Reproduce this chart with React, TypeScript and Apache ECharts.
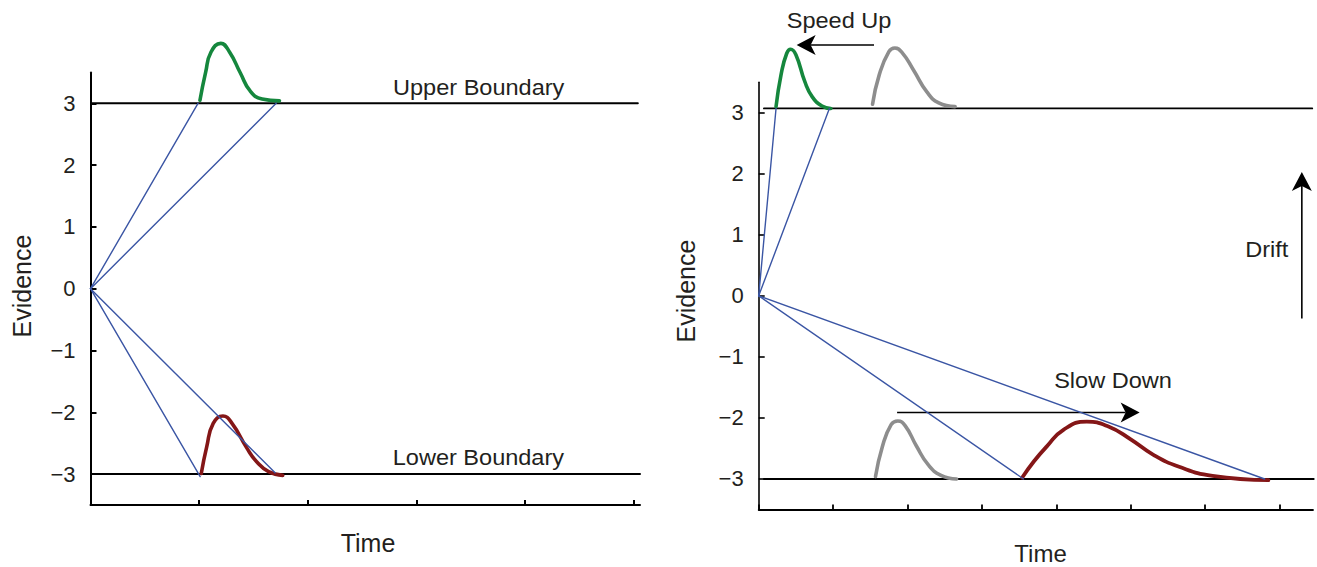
import React, { useEffect, useRef } from "react";
import * as echarts from "echarts";

// ---------- tick values ----------
const yTicks = [-3, -2, -1, 0, 1, 2, 3];
const leftTimeTicks = [0, 1, 2, 3, 4, 5];
const rightTimeTicks = [0, 1, 2, 3, 4, 5, 6, 7];

// ---------- left panel ----------
const leftUpperBoundary = [[0.01, 3], [5.04, 3]];
const leftLowerBoundary = [[0.01, -3], [5.06, -3]];
const leftPaths = [
  [[0, 0], [0.99, 3.0]],
  [[0, 0], [1.71, 3.0]],
  [[0, 0], [1.01, -3.04]],
  [[0, 0], [1.7, -2.98]],
];
const leftUpperRT = [
  [1.008, 3.05], [1.06, 3.5], [1.11, 3.83], [1.2, 3.97], [1.28, 3.83],
  [1.38, 3.49], [1.47, 3.2], [1.58, 3.07], [1.74, 3.04],
];
const leftLowerRT = [
  [1.02, -2.99], [1.07, -2.56], [1.13, -2.18], [1.22, -2.06], [1.3, -2.17],
  [1.44, -2.58], [1.53, -2.8], [1.64, -2.96], [1.77, -3.02],
];

// ---------- right panel ----------
const rightUpperBoundary = [[0.07, 3.07], [7.44, 3.07]];
const rightLowerBoundary = [[0.07, -3], [7.46, -3]];
const rightPaths = [
  [[0, 0], [0.233, 3.07]],
  [[0, 0], [0.95, 3.07]],
  [[0, 0], [3.56, -3.0]],
  [[0, 0], [6.8, -3.0]],
];
const rightUpperRT = [
  [0.233, 3.1], [0.3, 3.62], [0.376, 3.97], [0.43, 4.04], [0.5, 3.95],
  [0.62, 3.51], [0.72, 3.26], [0.85, 3.11], [0.97, 3.07],
];
const baselineUpperRT = [
  [1.53, 3.14], [1.62, 3.62], [1.75, 4.0], [1.83, 4.06], [1.93, 3.98],
  [2.08, 3.7], [2.26, 3.34], [2.42, 3.16], [2.64, 3.1],
];
const baselineLowerRT = [
  [1.57, -2.96], [1.66, -2.48], [1.78, -2.11], [1.87, -2.05], [1.97, -2.13],
  [2.12, -2.46], [2.28, -2.77], [2.45, -2.94], [2.66, -3.0],
];
const rightLowerRT = [
  [3.54, -2.98], [3.7, -2.71], [3.87, -2.47], [4.1, -2.19], [4.41, -2.06],
  [4.7, -2.14], [5.0, -2.35], [5.3, -2.6], [5.65, -2.8], [6.1, -2.95], [6.85, -3.02],
];
// arrows: [fromTime, fromEvidence, toTime, toEvidence]
const arrows = [
  [1.55, 4.11, 0.51, 4.11],
  [1.86, -1.91, 5.12, -1.91],
  [7.3, -0.37, 7.3, 2.03],
];

const TEXT = "#231f20";
const FONT = "'Liberation Sans', Arial, Helvetica, sans-serif";
const BLUE = "#3a55a4";
const GREEN = "#15873d";
const RED = "#841617";
const GRAY = "#8d8d8d";

const fmt = (v: number) => (v < 0 ? "\u2212" + Math.abs(v) : String(v));

function lineSeries(data: number[][], idx: number, color: string, width: number, smooth = false) {
  return {
    type: "line",
    xAxisIndex: idx,
    yAxisIndex: idx,
    data,
    showSymbol: false,
    symbol: "none",
    silent: true,
    clip: false,
    smooth: smooth ? 0.5 : false,
    lineStyle: { color, width, cap: "round", join: "round" },
  };
}

function yAxis(idx: number, lw: number) {
  return {
    type: "value",
    gridIndex: idx,
    min: -3.5,
    max: 3.5,
    axisLine: { show: true, onZero: false, lineStyle: { color: "#000", width: lw } },
    axisTick: { show: true, inside: true, length: 6, customValues: yTicks, lineStyle: { color: "#000", width: lw } },
    axisLabel: {
      show: true,
      customValues: yTicks,
      formatter: fmt,
      margin: 15,
      fontSize: 22,
      fontFamily: FONT,
      color: TEXT,
    },
    splitLine: { show: false },
  };
}

function xAxis(idx: number, max: number, ticks: number[], lw: number) {
  return {
    type: "value",
    gridIndex: idx,
    min: 0,
    max,
    axisLine: { show: true, onZero: false, lineStyle: { color: "#000", width: lw } },
    axisTick: { show: true, inside: true, length: 5, customValues: ticks, lineStyle: { color: "#000", width: lw } },
    axisLabel: { show: false },
    splitLine: { show: false },
  };
}

function label(text: string, x: number, y: number, size: number, scaleX = 1, rotation = 0) {
  return {
    type: "text",
    x,
    y,
    rotation,
    scaleX,
    silent: true,
    style: {
      text,
      fontSize: size,
      fontFamily: FONT,
      fill: TEXT,
      align: "center",
      verticalAlign: "middle",
      textAlign: "center",
      textVerticalAlign: "middle",
    },
  };
}

export default function App() {
  const ref = useRef<HTMLDivElement>(null);

  useEffect(() => {
    if (!ref.current) return;
    const chart = echarts.init(ref.current, undefined, { renderer: "svg" });

    const series: any[] = [];
    // left
    series.push(lineSeries(leftUpperBoundary, 0, "#000", 2));
    series.push(lineSeries(leftLowerBoundary, 0, "#000", 2));
    series.push(lineSeries(leftUpperRT, 0, GREEN, 3.6, true));
    series.push(lineSeries(leftLowerRT, 0, RED, 3.6, true));
    leftPaths.forEach((p) => series.push(lineSeries(p, 0, BLUE, 1.4)));
    // right
    series.push(lineSeries(rightUpperBoundary, 1, "#000", 1.8));
    series.push(lineSeries(rightLowerBoundary, 1, "#000", 1.8));
    series.push(lineSeries(rightUpperRT, 1, GREEN, 3.6, true));
    series.push(lineSeries(baselineUpperRT, 1, GRAY, 3.6, true));
    series.push(lineSeries(baselineLowerRT, 1, GRAY, 3.6, true));
    series.push(lineSeries(rightLowerRT, 1, RED, 3.8, true));
    series.push({
      type: "custom",
      xAxisIndex: 1,
      yAxisIndex: 1,
      clip: false,
      silent: true,
      data: arrows,
      encode: { x: [0, 2], y: [1, 3] },
      renderItem: (_params: any, api: any) => {
        const a = api.coord([api.value(0), api.value(1)]);
        const b = api.coord([api.value(2), api.value(3)]);
        const dx = b[0] - a[0];
        const dy = b[1] - a[1];
        const len = Math.hypot(dx, dy) || 1;
        const ux = dx / len;
        const uy = dy / len;
        const L = 19;
        const W = 10;
        const N = 5;
        const px = -uy;
        const py = ux;
        const base = [b[0] - ux * L, b[1] - uy * L];
        const notch = [b[0] - ux * (L - N), b[1] - uy * (L - N)];
        return {
          type: "group",
          children: [
            {
              type: "line",
              shape: { x1: a[0], y1: a[1], x2: notch[0], y2: notch[1] },
              style: { stroke: "#000", lineWidth: 1.6 },
            },
            {
              type: "polygon",
              shape: {
                points: [
                  [b[0], b[1]],
                  [base[0] + px * W, base[1] + py * W],
                  notch,
                  [base[0] - px * W, base[1] - py * W],
                ],
              },
              style: { fill: "#000" },
            },
          ],
        };
      },
    });
    rightPaths.forEach((p) => series.push(lineSeries(p, 1, BLUE, 1.4)));

    chart.setOption({
      animation: false,
      backgroundColor: "#fff",
      grid: [
        { left: 90.5, top: 72.4, width: 549.5, height: 432.6, containLabel: false },
        { left: 758.7, top: 82.2, width: 554.3, height: 427.3, containLabel: false },
      ],
      xAxis: [xAxis(0, 5.06, leftTimeTicks, 2), xAxis(1, 7.45, rightTimeTicks, 1.8)],
      yAxis: [yAxis(0, 2), yAxis(1, 1.6)],
      series,
      graphic: [
        label("Upper Boundary", 478.7, 87, 22, 1.07),
        label("Lower Boundary", 478.4, 457, 22, 1.07),
        label("Time", 368, 542.5, 25),
        label("Evidence", 22, 286, 25, 1, Math.PI / 2),
        label("Speed Up", 839, 20.5, 22, 1.07),
        label("Slow Down", 1113, 380, 22, 1.07),
        label("Drift", 1266.7, 249.3, 22, 1.07),
        label("Time", 1040.5, 553.5, 24),
        label("Evidence", 686, 291, 25, 1, Math.PI / 2),
      ],
    });

    return () => chart.dispose();
  }, []);

  return (
    <div
      ref={ref}
      style={{ position: "fixed", left: 0, top: 0, width: 1317, height: 567, background: "#fff" }}
    />
  );
}
